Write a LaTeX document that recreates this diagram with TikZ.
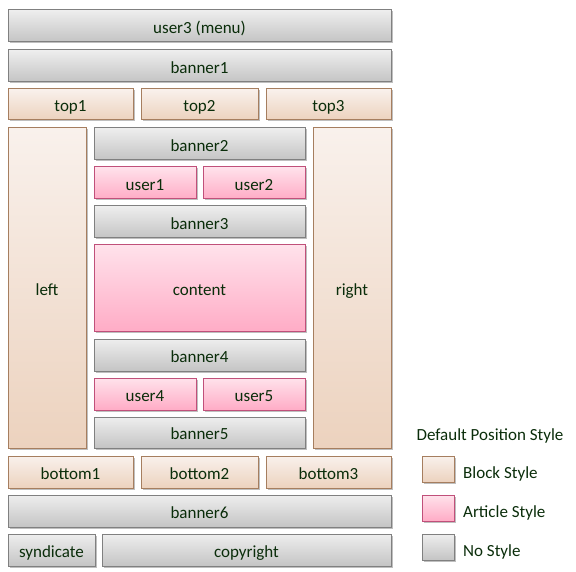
\documentclass[tikz,border=0pt]{standalone}
\usepackage{fontspec}
\setmainfont{Carlito}
\usetikzlibrary{shadings,shadows}
\definecolor{txt}{RGB}{10,45,10}
\definecolor{blkT}{RGB}{249,241,236}
\definecolor{blkB}{RGB}{236,210,190}
\definecolor{blkD}{RGB}{166,126,95}
\definecolor{artT}{RGB}{255,226,235}
\definecolor{artB}{RGB}{255,172,198}
\definecolor{artD}{RGB}{192,80,122}
\definecolor{nosT}{RGB}{238,238,238}
\definecolor{nosB}{RGB}{196,196,196}
\definecolor{nosD}{RGB}{128,128,128}
\tikzset{
  base/.style={draw, line width=1pt, inner sep=0pt, outer sep=0pt, anchor=north west,
    text=txt, font=\fontsize{17}{19}\selectfont, text height=14.5pt, text depth=0pt,
    drop shadow={shadow xshift=1.5pt, shadow yshift=-1.5pt, opacity=0.25, fill=black}},
  blk/.style={base, draw=blkD, top color=blkT, bottom color=blkB},
  art/.style={base, draw=artD, top color=artT, bottom color=artB},
  nos/.style={base, draw=nosD, top color=nosT, bottom color=nosB},
  lbl/.style={text=txt, font=\fontsize{17}{19}\selectfont, inner sep=0pt, text height=14.5pt, text depth=0pt}
}
\newcommand{\bx}[7]{%
  \pgfmathsetmacro{\bw}{#4-#2}\pgfmathsetmacro{\bh}{#5-#3}%
  \node[#6, minimum width=\bw pt, minimum height=\bh pt] (#1) at (#2,#3) {#7};}
\begin{document}
\begin{tikzpicture}[x=1pt,y=-1pt]
\useasboundingbox (0,0) rectangle (576,572);
\bx{user3}{8}{10}{391}{42}{nos}{user3 (menu)}
\bx{banner1}{8}{50}{391}{82}{nos}{banner1}
\bx{top1}{8}{89}{133}{120}{blk}{top1}
\bx{top2}{141}{89}{258}{120}{blk}{top2}
\bx{top3}{266}{89}{391}{120}{blk}{top3}
\bx{left}{8}{128}{86}{448}{blk}{left}
\bx{right}{313}{128}{391}{448}{blk}{right}
\bx{banner2}{94}{128}{305}{160}{nos}{banner2}
\bx{user1}{94}{167}{196}{199}{art}{user1}
\bx{user2}{203}{167}{305}{199}{art}{user2}
\bx{banner3}{94}{206}{305}{238}{nos}{banner3}
\bx{content}{94}{245}{305}{331}{art}{content}
\bx{banner4}{94}{339}{305}{371}{nos}{banner4}
\bx{user4}{94}{378}{196}{410}{art}{user4}
\bx{user5}{203}{378}{305}{410}{art}{user5}
\bx{banner5}{94}{417}{305}{448}{nos}{banner5}
\bx{bottom1}{8}{456}{133}{488}{blk}{bottom1}
\bx{bottom2}{141}{456}{258}{488}{blk}{bottom2}
\bx{bottom3}{266}{456}{391}{488}{blk}{bottom3}
\bx{banner6}{8}{495}{391}{527}{nos}{banner6}
\bx{syndicate}{8}{534}{95}{566}{nos}{syndicate}
\bx{copyright}{102}{534}{391}{566}{nos}{copyright}
\node[lbl] (title) at (490,433) {Default Position Style};
\bx{lgblk}{422}{456}{454}{482}{blk}{}
\bx{lgart}{422}{495}{454}{521}{art}{}
\bx{lgnos}{422}{534}{454}{560}{nos}{}
\node[lbl, anchor=west] (tblk) at (463,471) {Block Style};
\node[lbl, anchor=west] (tart) at (463,510) {Article Style};
\node[lbl, anchor=west] (tnos) at (463,549) {No Style};
\end{tikzpicture}
\end{document}
